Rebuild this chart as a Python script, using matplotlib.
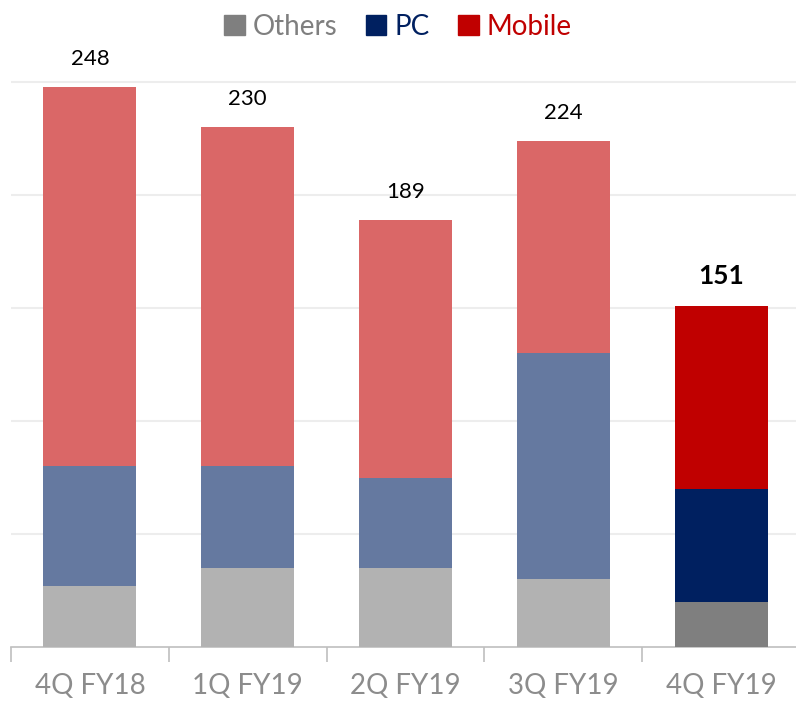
import matplotlib
matplotlib.use("Agg")
import matplotlib.pyplot as plt
from matplotlib.patches import Patch
import numpy as np

plt.rcParams["font.family"] = ["Lato", "DejaVu Sans"]

quarters = ["4Q FY18", "1Q FY19", "2Q FY19", "3Q FY19", "4Q FY19"]
others = [27, 35, 35, 30, 20]
pc = [53, 45, 40, 100, 50]
mobile = [168, 150, 114, 94, 81]
totals = [248, 230, 189, 224, 151]

faded = {"Others": "#B2B2B2", "PC": "#6579A0", "Mobile": "#DA6767"}
solid = {"Others": "#7F7F7F", "PC": "#002060", "Mobile": "#C00000"}

fig = plt.figure(figsize=(7.96, 7.01), dpi=100)
ax = fig.add_axes([11 / 796, 54 / 701, 789 / 796, 610 / 701])

x = np.arange(len(quarters))
n = len(quarters)
col_o = [faded["Others"]] * (n - 1) + [solid["Others"]]
col_p = [faded["PC"]] * (n - 1) + [solid["PC"]]
col_m = [faded["Mobile"]] * (n - 1) + [solid["Mobile"]]

bottom = np.zeros(n)
for vals, cols in ((others, col_o), (pc, col_p), (mobile, col_m)):
    ax.bar(x, vals, width=0.59, bottom=bottom, color=cols, zorder=3)
    bottom = bottom + np.array(vals)

for i, t in enumerate(totals):
    last = i == n - 1
    ax.text(x[i], t + 8, str(t), ha="center", va="bottom",
            fontsize=19 if last else 16, fontweight="bold" if last else "normal",
            color="black", clip_on=False)

ax.set_xlim(-0.5, 4.5)
ax.set_ylim(0, 270)
ax.set_yticks([50, 100, 150, 200, 250])
ax.yaxis.grid(True, color="#EDEDED", linewidth=1.5, zorder=0)
ax.tick_params(axis="y", length=0, labelleft=False)

ax.set_xticks(x)
ax.set_xticklabels(quarters, fontsize=20, color="#8C8C8C")
ax.set_xticks(np.arange(-0.5, n, 1.0), minor=True)
ax.tick_params(axis="x", which="major", length=0, pad=19)
ax.tick_params(axis="x", which="minor", length=11, width=1.2, color="#BFBFBF")

for s in ("top", "right", "left"):
    ax.spines[s].set_visible(False)
ax.spines["bottom"].set_color("#BFBFBF")
ax.spines["bottom"].set_linewidth(1.2)

handles = [Patch(color=solid[k]) for k in ("Others", "PC", "Mobile")]
fig.legend(handles, ["Others", "PC", "Mobile"], loc="center", bbox_to_anchor=(0.5, 0.962),
           ncol=3, frameon=False, fontsize=20, handlelength=0.75, handleheight=0.75,
           handletextpad=0.3, columnspacing=1.0,
           labelcolor=[solid["Others"], solid["PC"], solid["Mobile"]])

fig.savefig("out.png", dpi=100)
